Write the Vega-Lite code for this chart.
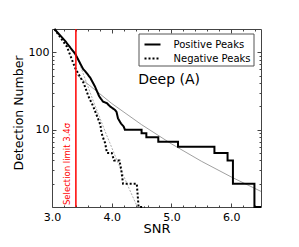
{
  "$schema": "https://vega.github.io/schema/vega-lite/v6.json",
  "width": 209,
  "height": 178,
  "autosize": {"type": "none"},
  "padding": {"left": 52, "top": 29, "right": 38, "bottom": 40},
  "background": "white",
  "config": {
    "font": "DejaVu Sans",
    "view": {"stroke": "#444", "strokeWidth": 1},
    "axis": {"domain": false, "grid": false, "labelFont": "DejaVu Sans", "labelFontSize": 11, "labelColor": "#000", "titleFont": "DejaVu Sans", "titleFontWeight": "normal", "titleColor": "#000", "tickColor": "#444", "labelFlush": false, "labelOverlap": false}
  },
  "datasets": {
    "fits": [
      {"fit": "pos", "snr": 3.4, "n": 52.5},
      {"fit": "pos", "snr": 3.5, "n": 44.9},
      {"fit": "pos", "snr": 4.0, "n": 21.8},
      {"fit": "pos", "snr": 4.5, "n": 11.6},
      {"fit": "pos", "snr": 5.0, "n": 6.55},
      {"fit": "pos", "snr": 5.5, "n": 3.91},
      {"fit": "pos", "snr": 6.0, "n": 2.45},
      {"fit": "pos", "snr": 6.5, "n": 1.59},
      {"fit": "neg", "snr": 3.4, "n": 97},
      {"fit": "neg", "snr": 3.5, "n": 59},
      {"fit": "neg", "snr": 3.7, "n": 22.5},
      {"fit": "neg", "snr": 3.9, "n": 9.06},
      {"fit": "neg", "snr": 4.1, "n": 3.81},
      {"fit": "neg", "snr": 4.3, "n": 1.67},
      {"fit": "neg", "snr": 4.43, "n": 1}
    ],
    "peaks": [
      {"series": "Positive Peaks", "snr": 3.04, "n": 200},
      {"series": "Positive Peaks", "snr": 3.22, "n": 140},
      {"series": "Positive Peaks", "snr": 3.39, "n": 95},
      {"series": "Positive Peaks", "snr": 3.52, "n": 61},
      {"series": "Positive Peaks", "snr": 3.555, "n": 57},
      {"series": "Positive Peaks", "snr": 3.64, "n": 47},
      {"series": "Positive Peaks", "snr": 3.72, "n": 36},
      {"series": "Positive Peaks", "snr": 3.79, "n": 27},
      {"series": "Positive Peaks", "snr": 3.82, "n": 25},
      {"series": "Positive Peaks", "snr": 3.855, "n": 23},
      {"series": "Positive Peaks", "snr": 3.92, "n": 22},
      {"series": "Positive Peaks", "snr": 3.97, "n": 20},
      {"series": "Positive Peaks", "snr": 4.055, "n": 18},
      {"series": "Positive Peaks", "snr": 4.08, "n": 17},
      {"series": "Positive Peaks", "snr": 4.105, "n": 14},
      {"series": "Positive Peaks", "snr": 4.155, "n": 12},
      {"series": "Positive Peaks", "snr": 4.2, "n": 11},
      {"series": "Positive Peaks", "snr": 4.22, "n": 10},
      {"series": "Positive Peaks", "snr": 4.5, "n": 10},
      {"series": "Positive Peaks", "snr": 4.5, "n": 9},
      {"series": "Positive Peaks", "snr": 4.58, "n": 9},
      {"series": "Positive Peaks", "snr": 4.58, "n": 8},
      {"series": "Positive Peaks", "snr": 4.78, "n": 8},
      {"series": "Positive Peaks", "snr": 4.78, "n": 7},
      {"series": "Positive Peaks", "snr": 5.11, "n": 7},
      {"series": "Positive Peaks", "snr": 5.11, "n": 6},
      {"series": "Positive Peaks", "snr": 5.72, "n": 6},
      {"series": "Positive Peaks", "snr": 5.72, "n": 5},
      {"series": "Positive Peaks", "snr": 5.94, "n": 5},
      {"series": "Positive Peaks", "snr": 5.94, "n": 4},
      {"series": "Positive Peaks", "snr": 6.03, "n": 4},
      {"series": "Positive Peaks", "snr": 6.03, "n": 2},
      {"series": "Positive Peaks", "snr": 6.39, "n": 2},
      {"series": "Positive Peaks", "snr": 6.39, "n": 1},
      {"series": "Positive Peaks", "snr": 6.5, "n": 1},
      {"series": "Negative Peaks", "snr": 3.04, "n": 200},
      {"series": "Negative Peaks", "snr": 3.25, "n": 118},
      {"series": "Negative Peaks", "snr": 3.39, "n": 62},
      {"series": "Negative Peaks", "snr": 3.53, "n": 40},
      {"series": "Negative Peaks", "snr": 3.61, "n": 27},
      {"series": "Negative Peaks", "snr": 3.69, "n": 20},
      {"series": "Negative Peaks", "snr": 3.78, "n": 13.3},
      {"series": "Negative Peaks", "snr": 3.81, "n": 11.5},
      {"series": "Negative Peaks", "snr": 3.83, "n": 9},
      {"series": "Negative Peaks", "snr": 3.87, "n": 7.3},
      {"series": "Negative Peaks", "snr": 3.89, "n": 6.7},
      {"series": "Negative Peaks", "snr": 3.92, "n": 5},
      {"series": "Negative Peaks", "snr": 4.0, "n": 5},
      {"series": "Negative Peaks", "snr": 4.04, "n": 4},
      {"series": "Negative Peaks", "snr": 4.13, "n": 4},
      {"series": "Negative Peaks", "snr": 4.16, "n": 3},
      {"series": "Negative Peaks", "snr": 4.19, "n": 2},
      {"series": "Negative Peaks", "snr": 4.42, "n": 2},
      {"series": "Negative Peaks", "snr": 4.45, "n": 1},
      {"series": "Negative Peaks", "snr": 4.55, "n": 1}
    ]
  },
  "layer": [
    {
      "data": {"name": "fits"},
      "transform": [{"filter": "datum.fit == 'pos'"}],
      "mark": {"type": "line", "color": "#888", "strokeWidth": 0.8},
      "encoding": {
        "x": {
          "field": "snr", "type": "quantitative",
          "scale": {"domain": [3, 6.5], "nice": false, "zero": false},
          "axis": {
            "orient": "bottom",
            "values": [3, 3.2, 3.4, 3.6, 3.8, 4, 4.2, 4.4, 4.6, 4.8, 5, 5.2, 5.4, 5.6, 5.8, 6, 6.2, 6.4],
            "labelExpr": "datum.value % 1 == 0 ? format(datum.value, '.1f') : ''",
            "tickSize": {"condition": {"test": "datum.value % 1 == 0", "value": -4}, "value": -2},
            "labelPadding": 8,
            "title": "SNR",
            "titleFontSize": 13,
            "titleX": 104.5,
            "titleY": 21.5,
            "titleBaseline": "middle",
            "titleAlign": "center"
          }
        },
        "y": {
          "field": "n", "type": "quantitative",
          "scale": {"type": "log", "domain": [1, 200], "nice": false},
          "axis": {
            "orient": "left",
            "values": [2, 3, 4, 5, 6, 7, 8, 9, 10, 20, 30, 40, 50, 60, 70, 80, 90, 100],
            "labelExpr": "datum.value == 10 || datum.value == 100 ? datum.value : ''",
            "tickSize": {"condition": {"test": "datum.value == 10 || datum.value == 100", "value": -4}, "value": -2},
            "labelPadding": 7,
            "title": "Detection Number",
            "titleFontSize": 12.5,
            "titleX": -34,
            "titleY": 83.5,
            "titleAngle": -90,
            "titleBaseline": "middle",
            "titleAlign": "center"
          }
        },
        "order": {"value": null}
      }
    },
    {
      "data": {"name": "fits"},
      "transform": [{"filter": "datum.fit == 'neg'"}],
      "mark": {"type": "line", "color": "#999", "strokeWidth": 0.8, "strokeDash": [2, 1.5]},
      "encoding": {
        "x": {
          "field": "snr", "type": "quantitative",
          "axis": {
            "orient": "top",
            "values": [3, 3.2, 3.4, 3.6, 3.8, 4, 4.2, 4.4, 4.6, 4.8, 5, 5.2, 5.4, 5.6, 5.8, 6, 6.2, 6.4],
            "labels": false,
            "title": null,
            "tickSize": {"condition": {"test": "datum.value % 1 == 0", "value": -4}, "value": -2}
          }
        },
        "y": {
          "field": "n", "type": "quantitative",
          "axis": {
            "orient": "right",
            "values": [2, 3, 4, 5, 6, 7, 8, 9, 10, 20, 30, 40, 50, 60, 70, 80, 90, 100],
            "labels": false,
            "title": null,
            "tickSize": {"condition": {"test": "datum.value == 10 || datum.value == 100", "value": -4}, "value": -2}
          }
        },
        "order": {"value": null}
      }
    },
    {
      "data": {"name": "peaks"},
      "mark": {"type": "line", "color": "black", "strokeWidth": 2},
      "encoding": {
        "x": {"field": "snr", "type": "quantitative", "axis": null},
        "y": {"field": "n", "type": "quantitative", "axis": null},
        "strokeDash": {
          "field": "series", "type": "nominal",
          "scale": {"domain": ["Positive Peaks", "Negative Peaks"], "range": [[1, 0], [2, 2]]},
          "legend": {
            "orient": "none",
            "legendX": 86.5,
            "legendY": 4.5,
            "title": null,
            "symbolType": "stroke",
            "symbolStrokeColor": "black",
            "symbolStrokeWidth": 2,
            "symbolSize": 256,
            "labelFont": "DejaVu Sans",
            "labelFontSize": 10,
            "labelColor": "black",
            "labelOffset": 12,
            "symbolOffset": 3,
            "rowPadding": 0,
            "padding": 2,
            "strokeColor": "#555",
            "fillColor": "white"
          }
        },
        "order": {"value": null}
      }
    },
    {
      "data": {"values": [{}]},
      "mark": {"type": "rule", "color": "#ff0000", "strokeWidth": 1.5},
      "encoding": {
        "x": {"datum": 3.4, "type": "quantitative", "axis": null}
      }
    },
    {
      "data": {"values": [{}]},
      "mark": {"type": "text", "angle": 270, "align": "left", "baseline": "middle", "color": "#ff0000", "fontSize": 8.5, "font": "DejaVu Sans"},
      "encoding": {
        "x": {"datum": 3.25, "type": "quantitative", "axis": null},
        "y": {"datum": 1.06, "type": "quantitative", "axis": null},
        "text": {"value": "Selection limit 3.4σ"}
      }
    },
    {
      "data": {"values": [{}]},
      "mark": {"type": "text", "align": "left", "baseline": "middle", "color": "black", "fontSize": 14, "font": "DejaVu Sans"},
      "encoding": {
        "x": {"datum": 4.443, "type": "quantitative", "axis": null},
        "y": {"datum": 44, "type": "quantitative", "axis": null},
        "text": {"value": "Deep (A)"}
      }
    }
  ],
  "resolve": {"axis": {"x": "independent", "y": "independent"}}
}
